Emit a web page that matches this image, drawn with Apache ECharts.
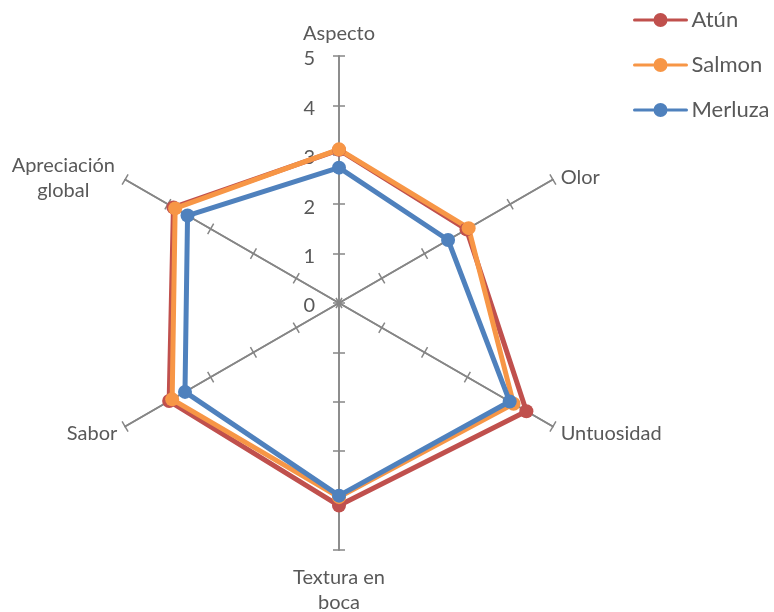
<!DOCTYPE html>
<html>
<head>
<meta charset="utf-8">
<script src="https://cdn.jsdelivr.net/npm/echarts@6/dist/echarts.min.js"></script>
<style>
  html, body { margin: 0; padding: 0; background: #fff; }
  #chart { width: 774px; height: 612px; }
</style>
</head>
<body>
<div id="chart"></div>
<script>
// Sensory attributes, listed clockwise from the top
const categories = ['Aspecto', 'Olor', 'Untuosidad', 'Textura en boca', 'Sabor', 'Apreciación global'];
const scaleTicks = ['0', '1', '2', '3', '4', '5'];
const seriesNames = ['Atún', 'Salmon', 'Merluza'];
const atun = [3.1, 2.98, 4.38, 4.1, 3.97, 3.87];
const salmon = [3.11, 3.03, 4.08, 3.93, 3.9, 3.83];
const merluza = [2.74, 2.55, 3.99, 3.9, 3.6, 3.54];
const colors = ['#C0504D', '#F79646', '#4F81BD'];

const FONT = 'Lato, "Liberation Sans", sans-serif';
const TEXT = '#595959';
const AXIS = '#868686';
const CENTER = [339, 303];
const RADIUS = 247;

// ECharts lays radar indicators out counter-clockwise, so walk the list backwards after the first
const order = [0, 5, 4, 3, 2, 1];
const reorder = arr => order.map(i => arr[i]);
const indicators = reorder(categories).map(name => ({ name: name, min: 0, max: 5 }));

const twoLine = {
  'Textura en boca': ['Textura en', 'boca'],
  'Apreciación global': ['Apreciación', 'global']
};
const nameFormatter = function (name) {
  if (twoLine[name]) {
    return twoLine[name].map(p => '{c|' + p + '}').join('\n');
  }
  return name;
};

const radarBase = {
  center: CENTER,
  radius: RADIUS,
  startAngle: 90,
  shape: 'polygon',
  splitNumber: 5,
  indicator: indicators,
  splitLine: { show: false },
  splitArea: { show: false },
  axisLine: { show: true, lineStyle: { color: AXIS, width: 1.5 } },
  axisLabel: { show: false }
};

const legendIcon = 'path://M2,5.5 L54,5.5 A1.5,1.5 0 0 1 54,8.5 L2,8.5 A1.5,1.5 0 0 1 2,5.5 Z M21,7 A7,7 0 1 1 35,7 A7,7 0 1 1 21,7 Z';

const chart = echarts.init(document.getElementById('chart'), null, { renderer: 'canvas' });
chart.setOption({
  backgroundColor: '#ffffff',
  animation: false,
  legend: {
    data: seriesNames,
    orient: 'vertical',
    left: 628,
    top: 4,
    itemWidth: 56,
    itemHeight: 14,
    itemGap: 23,
    icon: legendIcon,
    textStyle: { fontFamily: FONT, fontSize: 22, lineHeight: 22, color: TEXT, padding: [0, 0, 0, -2] }
  },
  radar: [
    Object.assign({}, radarBase, {
      axisName: {
        color: TEXT,
        fontFamily: FONT,
        fontSize: 20,
        lineHeight: 26,
        padding: [6, 0, 0, 0],
        formatter: nameFormatter,
        rich: { c: { width: 108, align: 'center', fontFamily: FONT, fontSize: 20, color: TEXT, lineHeight: 25 } }
      },
      nameGap: 9,
      axisTick: { show: true, length: 6, lineStyle: { color: AXIS, width: 1.5 } }
    }),
    // second copy of the axes carries the ticks on the opposite side, so they cross the spokes
    Object.assign({}, radarBase, {
      axisName: { show: false },
      axisTick: { show: true, length: -6, lineStyle: { color: AXIS, width: 1.5 } }
    })
  ],
  // scale numbers along the top spoke, sitting slightly below their ticks
  polar: { center: [CENTER[0], CENTER[1] + 3], radius: RADIUS },
  angleAxis: { show: false, startAngle: 90, min: 0, max: 360 },
  radiusAxis: {
    type: 'category',
    data: scaleTicks,
    boundaryGap: false,
    axisLine: { show: false },
    axisTick: { show: false },
    splitLine: { show: false },
    axisLabel: { show: true, color: TEXT, fontFamily: FONT, fontSize: 20, margin: 24 }
  },
  series: [{
    type: 'radar',
    radarIndex: 0,
    symbol: 'circle',
    symbolSize: 14,
    data: [atun, salmon, merluza].map((vals, i) => ({
      name: seriesNames[i],
      value: reorder(vals),
      lineStyle: { color: colors[i], width: 5 },
      itemStyle: { color: colors[i] }
    }))
  }]
});
</script>
</body>
</html>
